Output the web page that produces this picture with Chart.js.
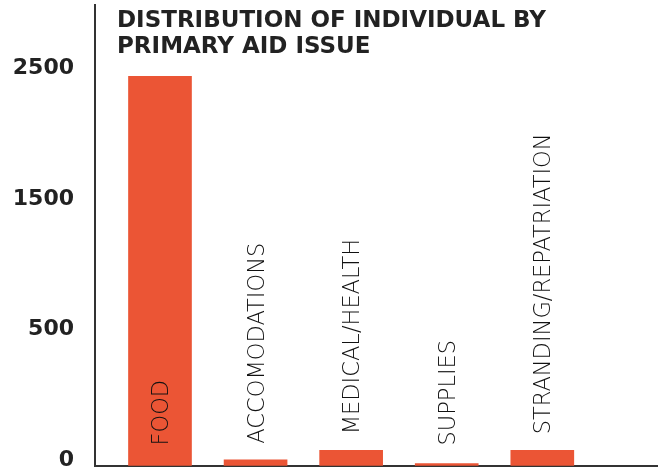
<!DOCTYPE html>
<html>
<head>
<meta charset="utf-8">
<script src="https://cdn.jsdelivr.net/npm/chart.js@4/dist/chart.umd.min.js"></script>
<style>
  html, body { margin: 0; padding: 0; background: #fff; }
  #wrap { width: 661px; height: 474px; }
</style>
</head>
<body>
<div id="wrap"><canvas id="aidChart" width="661" height="474"></canvas></div>
<script>
var categories = ["FOOD", "ACCOMODATIONS", "MEDICAL/HEALTH", "SUPPLIES", "STRANDING/REPATRIATION"];
var individuals = [2490, 40, 100, 15, 100];
var tickLabels = ["0", "500", "1500", "2500"];
var topTickValue = 2500;
var titleLines = ["DISTRIBUTION OF INDIVIDUAL BY", "PRIMARY AID ISSUE"];

var barColor = "#EB5535";
var inkColor = "#222222";

// bars sit on a linear x scale so the first one can start well off the axis
var points = individuals.map(function (v, i) { return { x: i, y: v }; });

// category names written upright: inside tall bars, just above short ones
var barLabels = {
    id: "barLabels",
    afterDatasetsDraw: function (chart) {
        var ctx = chart.ctx;
        var bars = chart.getDatasetMeta(0).data;
        ctx.save();
        ctx.font = "200 22.5px 'DejaVu Sans'";
        ctx.fillStyle = "#111111";
        ctx.textAlign = "left";
        ctx.textBaseline = "alphabetic";
        bars.forEach(function (bar, i) {
            var w = ctx.measureText(categories[i]).width;
            var y = bar.base - 20;
            if (bar.base - bar.y < w + 30) y = Math.min(y, bar.y - 16);
            ctx.save();
            ctx.translate(bar.x, y);
            ctx.rotate(-Math.PI / 2);
            ctx.fillText(categories[i], 0, 8);
            ctx.restore();
        });
        ctx.restore();
    }
};

// two-line heading inside the plot, top left
var heading = {
    id: "heading",
    afterDraw: function (chart) {
        var ctx = chart.ctx;
        ctx.save();
        ctx.font = "bold 23px 'DejaVu Sans'";
        ctx.fillStyle = inkColor;
        ctx.textAlign = "left";
        ctx.textBaseline = "alphabetic";
        ctx.fillText(titleLines[0], 117, 26.5);
        ctx.fillText(titleLines[1], 117, 53);
        ctx.restore();
    }
};

new Chart("aidChart", {
    type: "bar",
    data: {
        datasets: [{
            data: points,
            backgroundColor: barColor,
            borderWidth: 0,
            barThickness: 63
        }]
    },
    options: {
        responsive: false,
        animation: false,
        layout: { padding: { top: 5, right: 4, bottom: 8, left: 0 } },
        plugins: {
            legend: { display: false },
            title: { display: false },
            tooltip: { enabled: false }
        },
        scales: {
            x: {
                type: "linear",
                offset: false,
                min: -0.68,
                max: 5.2,
                grid: { drawOnChartArea: false, drawTicks: false },
                border: { display: true, color: "#333333", width: 2 },
                ticks: { display: false },
                afterFit: function (s) { s.height = 0; s.paddingLeft = 0; s.paddingRight = 0; }
            },
            y: {
                min: 0,
                max: 2945,
                grid: { drawOnChartArea: false, drawTicks: false },
                border: { display: true, color: "#333333", width: 2 },
                afterBuildTicks: function (s) {
                    s.ticks = tickLabels.map(function (t, i) {
                        return { value: i * topTickValue / (tickLabels.length - 1) };
                    });
                },
                ticks: {
                    padding: 21,
                    labelOffset: -6,
                    color: inkColor,
                    font: { family: "'DejaVu Sans'", size: 22, weight: "bold" },
                    callback: function (v, i) { return tickLabels[i]; }
                },
                afterFit: function (s) { s.width = 95; s.paddingTop = 0; s.paddingBottom = 0; }
            }
        }
    },
    plugins: [barLabels, heading]
});
</script>
</body>
</html>
